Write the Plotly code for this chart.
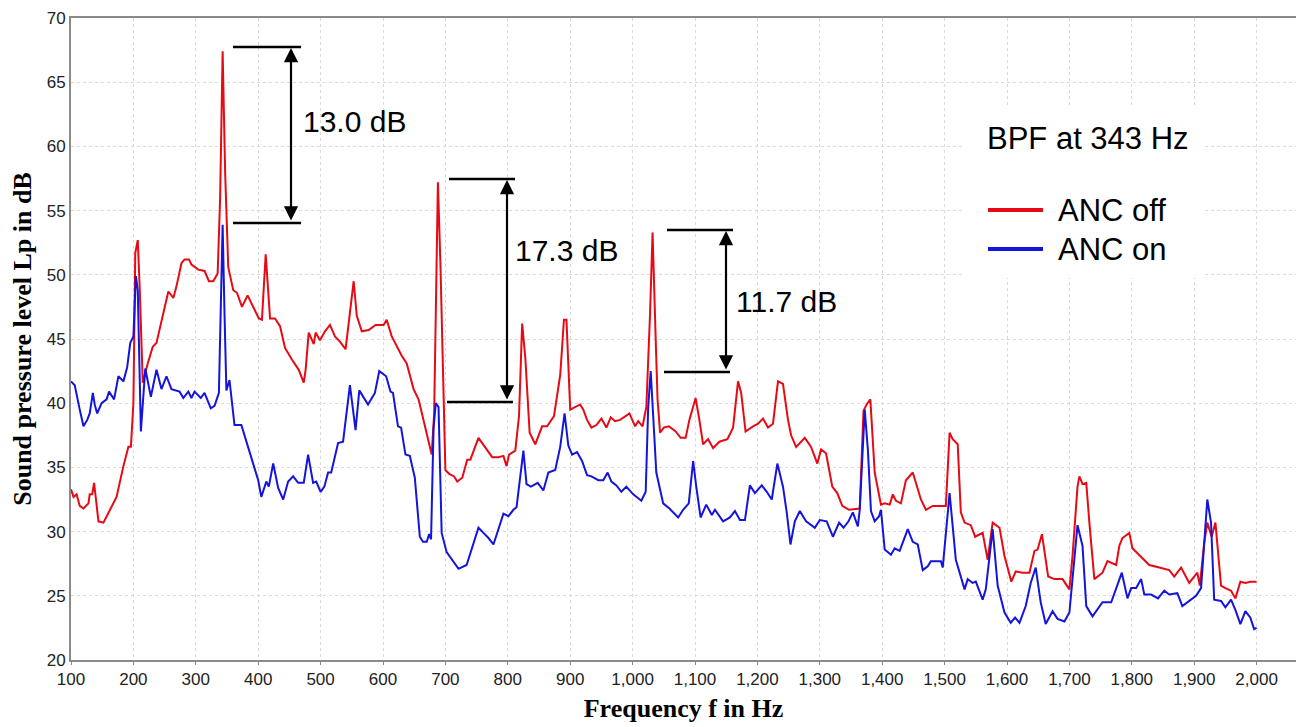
import plotly.graph_objects as go

# ---- data: ANC off (red) ----
freq_off = [100,104,109,114,120,128,130,134,137,144,152,162,173,184,192,196,200,203,207,210,215,223,231,237,250,256,264,269,277,282,289,293,304,314,321,328,335,339,343,347,352,360,366,374,383,392,401,406,412,419,427,435,443,454,465,473,476,481,489,492,499,507,515,523,531,540,547,553,558,566,577,588,601,606,614,630,638,649,657,668,678,682,685,688,692,698,700,706,714,719,727,735,740,753,762,775,785,793,798,802,812,818,823,828,835,844,855,863,874,884,890,894,900,908,916,921,927,934,942,950,958,965,972,980,988,995,1004,1009,1016,1022,1028,1032,1037,1040,1044,1050,1058,1069,1077,1085,1091,1101,1107,1113,1121,1129,1139,1152,1161,1169,1174,1181,1193,1201,1209,1217,1225,1233,1241,1249,1254,1262,1276,1286,1296,1302,1310,1320,1328,1336,1347,1364,1370,1375,1381,1388,1398,1404,1412,1417,1422,1430,1438,1449,1454,1462,1470,1481,1492,1502,1508,1513,1521,1526,1532,1542,1549,1561,1569,1577,1588,1596,1607,1614,1625,1636,1644,1649,1656,1666,1676,1689,1700,1705,1713,1716,1721,1727,1732,1740,1753,1761,1775,1780,1785,1796,1801,1814,1828,1844,1860,1868,1879,1892,1905,1909,1916,1921,1928,1934,1943,1950,1959,1966,1974,1982,1990,2000]
lp_off = [33.3,32.7,32.9,32.0,31.8,32.2,32.9,32.9,33.8,30.8,30.7,31.7,32.7,35.1,36.6,36.6,40.0,51.7,52.7,49.1,41.6,43.1,44.4,44.7,47.5,48.7,48.2,49.1,50.9,51.2,51.2,50.8,50.4,50.3,49.5,49.5,50.1,56.0,67.4,58.0,50.6,48.8,48.6,47.5,48.4,47.5,46.6,46.5,51.6,46.6,46.6,46.0,44.3,43.4,42.6,41.6,42.6,45.5,44.6,45.5,44.9,45.6,46.1,45.2,44.8,44.2,47.0,49.5,46.8,45.6,45.7,46.1,46.1,46.5,45.2,43.7,43.1,41.1,40.3,38.0,36.0,39.2,50.0,57.2,50.9,40.0,34.8,34.5,34.3,33.9,34.2,35.6,35.6,37.3,36.7,35.8,35.8,35.9,35.1,36.0,36.3,39.0,46.2,43.6,37.7,36.8,38.2,38.2,39.0,42.2,46.5,46.5,39.5,39.7,39.9,39.5,38.7,38.1,38.3,38.8,38.1,38.9,38.6,38.7,39.0,39.2,38.2,38.6,38.2,39.7,47.0,53.3,45.0,40.3,37.7,38.1,38.2,37.8,37.3,37.3,38.7,40.4,38.7,36.8,37.2,36.5,37.0,37.2,38.1,41.7,40.8,37.8,38.2,38.4,38.8,38.1,38.4,41.7,41.5,38.7,37.5,36.6,37.3,36.6,35.3,36.4,36.1,33.5,33.0,32.0,31.7,31.8,39.4,39.9,40.3,34.6,32.1,32.2,32.1,32.9,32.4,32.2,34.0,34.6,33.8,32.5,31.7,32.0,32.0,32.0,37.7,37.2,36.8,31.5,30.7,30.5,29.6,29.9,27.8,30.7,30.3,28.1,26.1,26.9,26.8,26.8,28.5,28.6,29.8,26.5,26.3,26.3,25.5,28.1,33.5,34.3,33.7,33.8,30.7,26.3,26.8,27.7,27.4,28.9,29.5,29.9,28.7,28.1,27.4,27.2,27.0,26.5,27.2,26.0,26.8,25.8,29.1,30.7,29.6,30.7,25.8,25.6,25.4,24.8,26.1,26.0,26.1,26.1]

# ---- data: ANC on (blue) ----
freq_on = [100,106,114,120,126,130,135,138,142,149,157,161,169,176,184,190,195,200,204,207,212,219,228,237,245,253,261,274,280,288,293,298,308,314,324,330,337,340,343,346,349,354,362,373,384,392,400,405,413,417,424,432,440,448,456,464,473,480,488,493,500,506,512,517,528,536,547,556,562,576,587,594,605,612,616,624,629,636,643,651,659,664,670,674,677,681,684.5,689,694,702,716,721,734,742,753,761,769,777,785,793,801,809,814,825,830,837,848,857,865,876,884,891,897,903,911,919,927,934,945,953,960,966,974,982,990,1001,1014,1021,1025,1029,1033,1038,1049,1059,1073,1081,1090,1097,1102,1109,1118,1127,1132,1145,1156,1164,1172,1180,1188,1196,1207,1215,1223,1232,1241,1247,1253,1260,1268,1278,1292,1300,1311,1321,1331,1338,1346,1353,1361,1364,1372,1377,1382,1388,1395,1398,1404,1414,1420,1428,1441,1449,1457,1465,1473,1478,1494,1497,1508,1518,1532,1537,1545,1550,1561,1566,1577,1585,1596,1606,1613,1620,1630,1638,1646,1654,1662,1673,1681,1692,1700,1705,1713,1721,1727,1737,1753,1767,1777,1784,1793,1799,1807,1815,1820,1831,1842,1852,1860,1873,1881,1892,1903,1911,1921,1927,1932,1943,1950,1959,1966,1974,1982,1990,1996,2000]
lp_on = [41.7,41.4,39.5,38.2,38.7,39.2,40.8,39.9,39.2,40.0,40.3,40.9,40.3,42.1,41.7,42.8,44.7,45.2,49.9,48.8,37.8,42.7,40.5,42.6,41.1,42.1,41.1,40.9,40.4,40.9,40.4,40.9,40.4,40.8,39.6,39.8,40.8,47.0,53.9,47.0,41.0,41.8,38.3,38.3,36.6,35.3,34.0,32.7,33.9,33.5,35.3,33.4,32.5,33.9,34.3,33.8,33.8,36.0,33.8,33.9,33.1,33.5,34.6,34.6,36.9,37.0,41.4,37.9,41.0,39.9,40.8,42.5,42.1,40.9,40.8,38.2,38.1,36.0,35.9,34.2,29.6,29.2,29.2,29.8,29.4,38.0,40.0,39.7,29.9,28.4,27.4,27.1,27.4,28.6,30.3,29.9,29.5,29.0,30.2,31.4,31.2,31.7,31.9,36.3,33.7,33.5,33.8,33.2,34.6,34.8,36.6,39.2,36.7,36.0,36.2,35.5,34.4,34.3,34.0,34.0,34.6,33.9,33.6,33.1,33.5,32.9,32.4,33.1,39.7,42.5,39.0,34.6,32.2,31.8,31.1,31.7,32.2,35.5,33.5,31.1,32.1,31.3,31.7,30.8,31.1,31.6,30.9,30.9,33.6,33.0,33.6,33.1,32.5,35.3,33.5,31.5,29.0,30.8,31.6,30.8,30.3,30.9,30.8,29.6,30.7,30.3,30.8,31.5,30.4,31.7,39.5,36.4,31.6,30.8,31.2,31.7,28.6,28.2,28.7,28.5,30.2,29.2,29.0,27.0,27.3,27.7,27.7,27.2,33.0,27.8,25.5,26.3,26.0,26.1,24.7,25.5,30.2,25.8,23.7,22.9,23.3,22.9,24.2,26.0,27.2,24.5,22.8,23.8,23.2,23.0,23.7,26.3,30.5,28.9,24.2,23.4,24.5,24.5,25.8,26.8,24.8,25.6,25.6,26.3,25.1,25.1,24.8,25.4,25.1,25.2,24.2,24.6,25.0,25.6,32.5,30.7,24.7,24.6,24.1,24.7,23.9,22.8,23.8,23.3,22.4,22.5]

series_names = ["ANC off", "ANC on"]
series_colors = ["rgb(230,10,20)", "rgb(20,20,220)"]
legend_title = "BPF at 343 Hz"

# level-difference labels
diff_labels = ["13.0 dB", "17.3 dB", "11.7 dB"]

W, H = 1296, 727
ML, MR, MT, MB = 71, 0, 18, 67
PW, PH = W - ML - MR, H - MT - MB
HZ_PER_PX = 100 / 62.4
X0 = 100
X1 = X0 + PW * HZ_PER_PX
Y0, Y1 = 20, 70
DB_PER_PX = (Y1 - Y0) / PH

def hx(px):
    return X0 + (px - ML) * HZ_PER_PX

def dy(py):
    return Y1 - (py - MT) * DB_PER_PX

def ppx(px):
    return (px - ML) / PW

def ppy(py):
    return (H - MB - py) / PH

fig = go.Figure()
fig.add_trace(go.Scatter(x=freq_off, y=lp_off, mode="lines", name=series_names[0],
                         line=dict(color=series_colors[0], width=2), showlegend=False))
fig.add_trace(go.Scatter(x=freq_on, y=lp_on, mode="lines", name=series_names[1],
                         line=dict(color=series_colors[1], width=2), showlegend=False))

shapes = []
annotations = []

# bracket decoration positions (pixels)
brackets = [
    dict(xl=233, xr=301, yt=47, xbl=233, xbr=301, yb=223, xa=291, tx=301, ty=121),
    dict(xl=449, xr=515, yt=179, xbl=447, xbr=513, yb=402, xa=507, tx=513, ty=250),
    dict(xl=667, xr=733, yt=230, xbl=664, xbr=730, yb=372, xa=726, tx=734, ty=301),
]
for b, lab in zip(brackets, diff_labels):
    shapes.append(dict(type="line", xref="x", yref="y", x0=hx(b["xl"]), x1=hx(b["xr"]),
                       y0=dy(b["yt"]), y1=dy(b["yt"]), line=dict(color="black", width=2.5)))
    shapes.append(dict(type="line", xref="x", yref="y", x0=hx(b["xbl"]), x1=hx(b["xbr"]),
                       y0=dy(b["yb"]), y1=dy(b["yb"]), line=dict(color="black", width=2.5)))
    annotations.append(dict(x=hx(b["xa"]), y=dy(b["yt"] + 1), ax=hx(b["xa"]), ay=dy(b["yb"] - 1),
                            xref="x", yref="y", axref="x", ayref="y", text="", showarrow=True,
                            arrowhead=2, startarrowhead=2, arrowside="end+start",
                            arrowsize=1.3, startarrowsize=1.3, arrowwidth=2.2, arrowcolor="black"))
    annotations.append(dict(x=hx(b["tx"]), y=dy(b["ty"]), xref="x", yref="y", text=lab,
                            showarrow=False, xanchor="left", yanchor="middle",
                            font=dict(family="Liberation Sans, Arial, sans-serif", size=30, color="black")))

# legend box (manual)
shapes.append(dict(type="rect", xref="paper", yref="paper", x0=ppx(965), x1=ppx(1203),
                   y0=ppy(278), y1=ppy(108), fillcolor="white", line=dict(width=0), layer="above"))
lfont = "Liberation Sans, Arial, sans-serif"
annotations.append(dict(x=ppx(985), y=ppy(139), xref="paper", yref="paper", text=legend_title,
                        showarrow=False, xanchor="left", yanchor="middle",
                        font=dict(family=lfont, size=31, color="black")))
for i, (nm, col) in enumerate(zip(series_names, series_colors)):
    ly = 210 + 39 * i
    shapes.append(dict(type="line", xref="paper", yref="paper", x0=ppx(988), x1=ppx(1043),
                       y0=ppy(ly), y1=ppy(ly), line=dict(color=col, width=4), layer="above"))
    annotations.append(dict(x=ppx(1056), y=ppy(ly), xref="paper", yref="paper", text=nm,
                            showarrow=False, xanchor="left", yanchor="middle",
                            font=dict(family=lfont, size=31, color="black")))

fig.update_layout(
    width=W, height=H,
    margin=dict(l=ML, r=MR, t=MT, b=MB),
    paper_bgcolor="white", plot_bgcolor="white",
    shapes=shapes, annotations=annotations,
    showlegend=False,
    xaxis=dict(range=[X0, X1], tick0=100, dtick=100, tickformat=",",
               showgrid=True, gridcolor="#dadada", griddash="dot", gridwidth=1,
               showline=True, linecolor="#8a8a8a", linewidth=2, mirror=True,
               ticks="outside", ticklen=3, tickcolor="#8a8a8a", zeroline=False,
               tickfont=dict(family="Liberation Sans, Arial, sans-serif", size=17, color="#222"),
               title=dict(text="<b>Frequency f in Hz</b>", standoff=10,
                          font=dict(family="Liberation Serif, Times New Roman, serif", size=26, color="black"))),
    yaxis=dict(range=[Y0, Y1], tick0=20, dtick=5,
               showgrid=True, gridcolor="#dadada", griddash="dot", gridwidth=1,
               showline=True, linecolor="#8a8a8a", linewidth=2,
               ticks="", zeroline=False,
               tickfont=dict(family="Liberation Sans, Arial, sans-serif", size=17, color="#222"),
               title=dict(text="<b>Sound pressure level Lp in dB</b>", standoff=8,
                          font=dict(family="Liberation Serif, Times New Roman, serif", size=26, color="black"))),
)

fig.write_html("out.html", config={"displayModeBar": False},
               post_script="document.body.style.margin='0';")
